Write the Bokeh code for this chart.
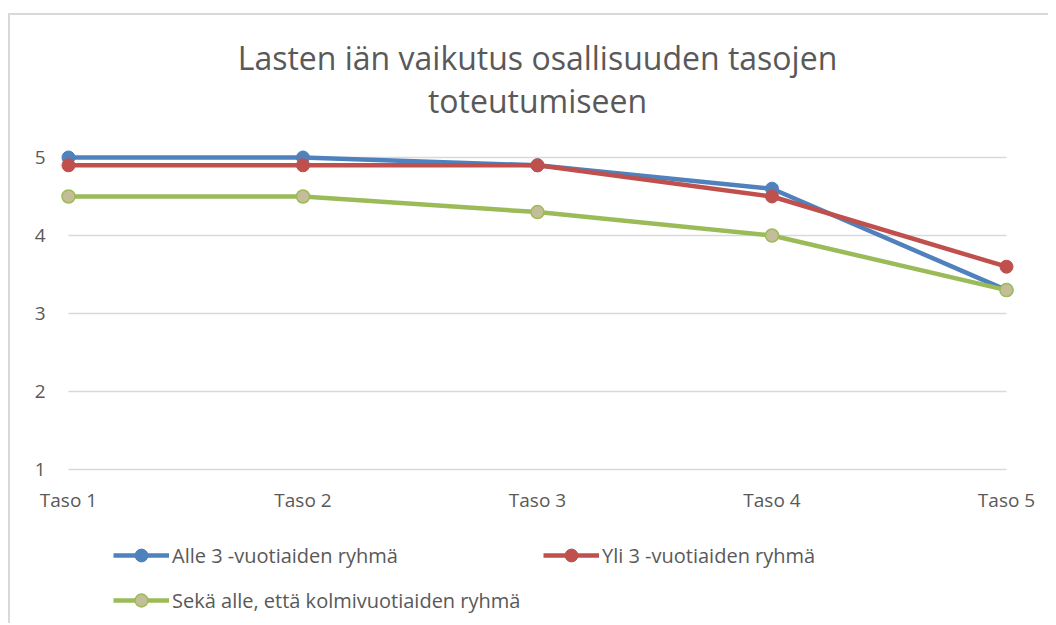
from bokeh.plotting import figure
from bokeh.models import (ColumnDataSource, Legend, LegendItem, Label, Range1d)
from bokeh.embed import file_html
from bokeh.resources import INLINE
from bokeh.core.properties import value

categories = ["Taso 1", "Taso 2", "Taso 3", "Taso 4", "Taso 5"]
alle3 = [5.0, 5.0, 4.9, 4.6, 3.3]
yli3 = [4.9, 4.9, 4.9, 4.5, 3.6]
molemmat = [4.5, 4.5, 4.3, 4.0, 3.3]
series_names = ["Alle 3 -vuotiaiden ryhmä", "Yli 3 -vuotiaiden ryhmä",
                "Sekä alle, että kolmivuotiaiden ryhmä"]
title_lines = ["Lasten iän vaikutus osallisuuden tasojen", "toteutumiseen"]
y_ticks = [1, 2, 3, 4, 5]

FONT = "Open Sans"
TXT = "#595959"
GRID = "#d9d9d9"

xs = list(range(len(categories)))

W, H = 1040, 610
p = figure(width=W, height=H, output_backend="svg", toolbar_location=None,
           x_range=Range1d(-0.2473, 4.1876), y_range=Range1d(-1.0, 6.8205),
           min_border=0, title=None)
p.outline_line_color = None
p.xaxis.visible = False
p.yaxis.visible = False
p.xgrid.visible = False
p.ygrid.visible = False

# gridlines (value axis)
gsrc = ColumnDataSource(dict(y=y_ticks, x0=[xs[0]] * len(y_ticks), x1=[xs[-1]] * len(y_ticks),
                             lab=[str(t) for t in y_ticks]))
p.segment(x0="x0", x1="x1", y0="y", y1="y", source=gsrc, line_color=GRID, line_width=1.5)
p.text(x="x0", y="y", text="lab", source=gsrc, x_offset=-23, text_align="right",
       text_baseline="middle", text_font=value(FONT), text_font_size="19px", text_color=TXT)

# category labels
csrc = ColumnDataSource(dict(x=xs, y=[y_ticks[0]] * len(xs), lab=categories))
p.text(x="x", y="y", text="lab", source=csrc, y_offset=31, text_align="center",
       text_baseline="middle", text_font=value(FONT), text_font_size="19px", text_color=TXT)

src = ColumnDataSource(dict(x=xs, a=alle3, b=yli3, c=molemmat))
r_a_line = p.line("x", "a", source=src, line_color="#4f81bd", line_width=4.5)
r_a_pt = p.scatter("x", "a", source=src, size=13, fill_color="#4f81bd", line_color="#4f81bd")
r_b_line = p.line("x", "b", source=src, line_color="#c0504d", line_width=4.5)
r_b_pt = p.scatter("x", "b", source=src, size=13, fill_color="#c0504d", line_color="#c0504d")
r_c_line = p.line("x", "c", source=src, line_color="#9bbb59", line_width=4.5)
r_c_pt = p.scatter("x", "c", source=src, size=13, fill_color="#c4bd97", line_color="#9bbb59",
                   line_width=1.5)

# title
for txt, yy in zip(title_lines, [568, 525]):
    p.add_layout(Label(x=527, y=yy, x_units="screen", y_units="screen", text=txt,
                       text_align="center", text_baseline="middle", text_font=FONT,
                       text_font_size="32px", text_color=TXT))

def mk_legend(label, rends, loc):
    lg = Legend(items=[LegendItem(label=label, renderers=rends)], location=loc,
                orientation="horizontal", glyph_width=56, glyph_height=32,
                label_standoff=3, padding=0, margin=0, spacing=0,
                border_line_color=None, background_fill_alpha=0,
                label_text_font=FONT, label_text_font_size="20px",
                label_text_color=TXT)
    p.add_layout(lg, "center")
    return lg

mk_legend(series_names[0], [r_a_line, r_a_pt], (103, 54))
mk_legend(series_names[1], [r_b_line, r_b_pt], (533, 54))
mk_legend(series_names[2], [r_c_line, r_c_pt], (103, 9))

p.styles = {"border-top": "2px solid #d9d9d9", "border-left": "2px solid #d9d9d9",
            "margin-left": "8px", "margin-top": "13px"}

open("out.html", "w").write(file_html(p, INLINE))
